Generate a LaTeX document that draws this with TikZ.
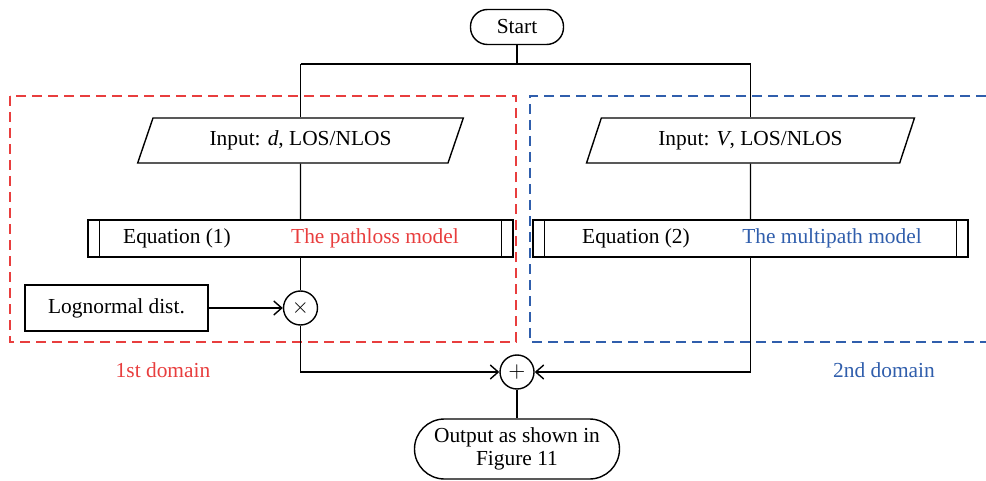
\documentclass[tikz,border=0pt]{standalone}
\usepackage{fontspec}
\setmainfont{Liberation Serif}
\usetikzlibrary{arrows.meta,shapes.geometric}

\definecolor{domainred}{RGB}{232,62,62}
\definecolor{domainblue}{RGB}{48,94,172}

\begin{document}
\begin{tikzpicture}[
    x=0.5pt, y=-0.5pt,
    line width=0.7pt,
    font=\fontsize{10.7}{11.5}\selectfont,
    >={Straight Barb[length=4pt,width=7pt]},
    terminal/.style={draw, rounded corners=8.5pt, minimum width=46.5pt, minimum height=17.5pt, inner sep=0pt},
    inputnode/.style={draw, trapezium, trapezium left angle=64, trapezium right angle=116, trapezium stretches=true, minimum width=164pt, minimum height=22.5pt, inner sep=0pt},
    procnode/.style={draw, minimum height=18.5pt, inner sep=0pt},
    opnode/.style={draw, circle, minimum size=17pt, inner sep=0pt},
    domainbox/.style={line width=0.6pt, dash pattern=on 5pt off 3pt},
]
\useasboundingbox (0,0) rectangle (986,481);

% the two domains
\draw[domainbox, domainred] (10,96) rectangle (516,342);
\draw[domainbox, domainblue] (986,96) -- (530,96) -- (530,342) -- (986,342);
\node[domainred] (labelone) at (163,370) {1st domain};
\node[domainblue] (labeltwo) at (884,370) {2nd domain};

% flow
\node[terminal] (start) at (517,27) {Start};
\coordinate (split) at (517,64);
\node[inputnode] (inputd) at (300.5,140.5) {Input: \textit{d}, LOS/NLOS};
\node[inputnode] (inputv) at (750.5,140.5) {Input: \textit{V}, LOS/NLOS};

\node[procnode, minimum width=212.5pt] (eqone) at (300.5,238.5) {};
\node[procnode, minimum width=217.5pt] (eqtwo) at (750.5,238.5) {};
\draw ([xshift=6pt]eqone.north west) -- ([xshift=6pt]eqone.south west);
\draw ([xshift=-6pt]eqone.north east) -- ([xshift=-6pt]eqone.south east);
\draw ([xshift=6pt]eqtwo.north west) -- ([xshift=6pt]eqtwo.south west);
\draw ([xshift=-6pt]eqtwo.north east) -- ([xshift=-6pt]eqtwo.south east);
\node (eqonetext) at (177,238.5) {Equation (1)};
\node[domainred] (pathloss) at (375,238.5) {The pathloss model};
\node (eqtwotext) at (636,238.5) {Equation (2)};
\node[domainblue] (multipath) at (832,238.5) {The multipath model};

\node[draw, minimum width=91.5pt, minimum height=23pt] (lognormal) at (116.5,308) {Lognormal dist.};
\node[opnode] (times) at (300.5,308) {$\times$};
\node[opnode] (plus) at (517,372) {$+$};
\node[terminal, align=center, rounded corners=15pt, minimum width=102.5pt, minimum height=30pt] (output) at (517,449) {Output as shown in\\Figure 11};

\draw (start) -- (split);
\draw (inputd.north |- split) -- (inputv.north |- split);
\draw (inputd.north |- split) -- (inputd.north);
\draw (inputv.north |- split) -- (inputv.north);
\draw (inputd) -- (eqone);
\draw (inputv) -- (eqtwo);
\draw (eqone) -- (times);
\draw[->] (lognormal) -- (times);
\draw[->] (times) |- (plus);
\draw[->] (eqtwo) |- (plus);
\draw (plus) -- (output);

\end{tikzpicture}
\end{document}
